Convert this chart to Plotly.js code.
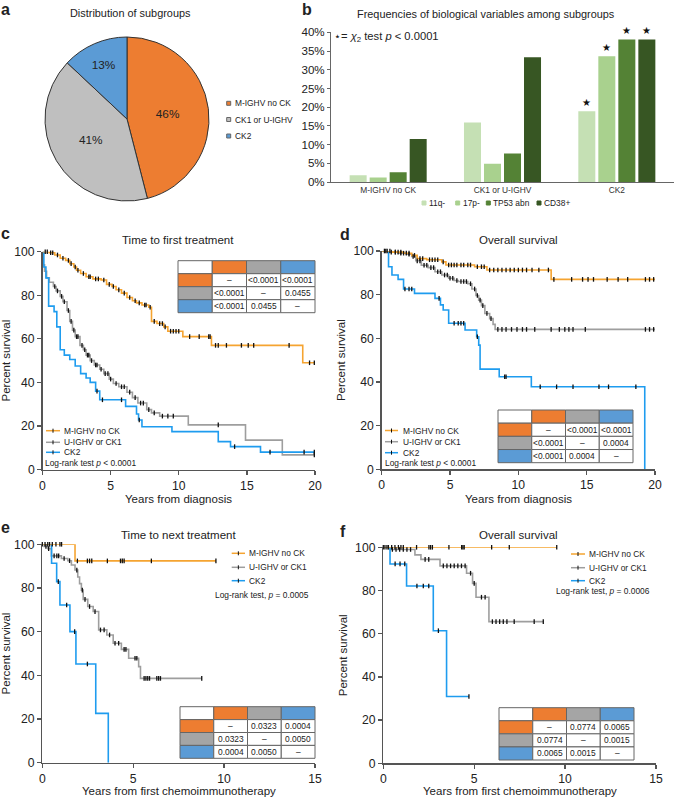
<!DOCTYPE html>
<html><head><meta charset="utf-8">
<script src="https://cdn.plot.ly/plotly-3.0.1.min.js"></script>
<style>html,body{margin:0;padding:0;background:#fff;}#chart{width:674px;height:797px;}</style>
</head><body><div id="chart"></div>
<script>
// ---------- data ----------
// panel a
const pieLabels = ['M-IGHV no CK', 'CK1 or U-IGHV', 'CK2'];
const pieValues = [46, 41, 13];
// panel b
const barCategories = ['M-IGHV no CK', 'CK1 or U-IGHV', 'CK2'];
const barSeries = ['11q-', '17p-', 'TP53 abn', 'CD38+'];
const v11q = [1.8, 15.9, 18.9];
const v17p = [1.2, 4.9, 33.6];
const vTP53 = [2.6, 7.6, 38.1];
const vCD38 = [11.5, 33.3, 38.1];
const sigMarks = ['', '', '★'];
const yTicksB = [0, 5, 10, 15, 20, 25, 30, 35, 40];
const yTickTextB = ['0%', '5%', '10%', '15%', '20%', '25%', '30%', '35%', '40%'];
// KM groups
const kmNames = ['M-IGHV no CK', 'U-IGHV or CK1', 'CK2'];
// panel c: time to first treatment
const cT_M = [0, 0.5, 0.9, 1.3, 1.7, 2.0, 2.3, 2.5, 2.8, 3.2, 3.7, 4.3, 4.7, 5.1, 5.4, 5.8, 6.2, 6.6, 6.9, 7.3, 7.8, 8.0, 8.4, 8.9, 9.2, 10.3, 12.4, 19.1, 20];
const cS_M = [100, 99.5, 98.5, 97, 96, 94.5, 93, 91.5, 90, 88.5, 87.5, 87, 85, 84, 82.5, 81, 79, 77.5, 76.5, 75.5, 74.5, 68, 67, 65.5, 63.5, 61, 57, 49, 49];
const cC_M = [0.2, 0.35, 0.6, 0.75, 1.1, 1.5, 1.9, 2.1, 2.4, 2.6, 3.0, 3.4, 3.5, 3.9, 4.1, 4.5, 4.9, 5.2, 5.6, 6.0, 6.4, 6.8, 7.1, 7.5, 7.6, 7.9, 8.2, 8.6, 8.8, 9.0, 9.4, 9.6, 9.8, 10.0, 10.8, 11.5, 12.2, 12.3, 12.7, 12.9, 13.5, 14.6, 15.1, 15.5, 18.1, 19.6, 19.95];
const cT_U = [0, 0.05, 0.15, 0.3, 0.5, 0.8, 1.0, 1.3, 1.5, 1.8, 2.0, 2.2, 2.4, 2.75, 3.0, 3.2, 3.5, 3.8, 4.2, 4.5, 4.9, 5.2, 5.6, 6.2, 6.6, 7.0, 7.65, 8.0, 8.6, 10.7, 14.9, 17.6, 20];
const cS_U = [100, 94, 91, 88, 86, 84, 82, 79.5, 77, 73, 68, 64, 61, 57, 55, 52.5, 50, 48, 46, 44, 41.5, 39.5, 38, 35.5, 33, 30.5, 27.5, 26, 24.5, 20.5, 13.5, 6.7, 6.7];
const cC_U = [0.9, 1.1, 1.4, 1.6, 1.9, 2.1, 2.3, 2.5, 2.6, 2.9, 3.1, 3.3, 3.4, 3.6, 3.9, 4.0, 4.3, 4.6, 4.8, 5.0, 5.4, 5.8, 6.0, 6.4, 6.8, 7.2, 7.4, 7.8, 8.2, 8.8, 9.2, 9.6, 12.9, 19.95];
const cT_B = [0, 0.1, 0.25, 0.45, 0.85, 1.05, 1.3, 1.6, 2.0, 2.4, 2.8, 3.2, 3.5, 3.9, 4.2, 6.1, 6.9, 7.05, 7.3, 9.5, 12.9, 13.8, 16.0, 20];
const cS_B = [100, 93, 88, 75, 72.5, 65.5, 55, 52.5, 50.5, 47.5, 44, 42, 40, 36, 32, 29, 25.5, 22.7, 19.6, 17.4, 12.8, 10.5, 8, 8];
const cC_B = [4.0, 4.4, 5.8, 7.1, 14.1, 16.7, 19.2, 19.95];
const cP = [['–', '&lt;0.0001', '&lt;0.0001'], ['&lt;0.0001', '–', '0.0455'], ['&lt;0.0001', '0.0455', '–']];
// panel d: overall survival from diagnosis
const dT_M = [0, 0.8, 1.6, 2.2, 2.6, 3.3, 4.4, 4.7, 6.8, 7.7, 12.4, 20];
const dS_M = [100, 99.5, 99, 98, 96.5, 96, 95, 93.6, 92.8, 91.3, 87, 87];
const dC_M = [0.2, 0.4, 0.6, 1.0, 1.2, 1.4, 1.8, 2.0, 2.4, 2.8, 3.0, 3.5, 3.7, 3.9, 4.1, 4.5, 4.9, 5.1, 5.3, 5.5, 5.8, 6.0, 6.3, 6.5, 7.0, 7.3, 7.5, 7.9, 8.2, 8.5, 8.8, 9.1, 9.4, 9.7, 10.0, 10.3, 10.6, 11.0, 11.5, 12.2, 12.6, 13.9, 14.7, 15.1, 15.5, 16.5, 17.3, 18.0, 19.3, 19.6, 19.9];
const dT_U = [0, 0.5, 1.2, 1.8, 2.2, 2.5, 2.9, 3.4, 3.9, 4.4, 4.9, 5.3, 5.6, 6.3, 6.6, 6.9, 7.1, 7.3, 7.55, 7.9, 8.15, 8.3, 20];
const dS_U = [100, 99.5, 99, 98.5, 97.5, 95.5, 93.5, 92.4, 90.5, 89, 87.5, 86.5, 86, 85, 82.6, 79.6, 77.5, 75, 71.4, 69, 66.4, 64.1, 64.1];
const dC_U = [0.3, 0.7, 1.0, 1.4, 1.6, 2.0, 2.3, 2.6, 2.8, 3.1, 3.3, 3.6, 3.8, 4.1, 4.3, 4.6, 4.8, 5.0, 5.2, 5.5, 5.8, 6.0, 6.2, 6.5, 6.8, 7.0, 7.2, 7.4, 7.7, 8.0, 8.5, 8.8, 9.1, 9.5, 9.9, 10.3, 10.6, 11.2, 12.4, 13.0, 13.4, 13.7, 14.0, 14.9, 19.3, 19.6, 19.9];
const dT_B = [0, 0.5, 0.75, 1.2, 1.6, 2.4, 3.9, 4.3, 4.5, 4.9, 6.1, 6.95, 7.1, 7.2, 8.6, 10.95, 19.25];
const dS_B = [100, 92.8, 89, 87, 82.6, 80.6, 78.3, 75.3, 73, 66.9, 63.8, 60.7, 56.9, 45.9, 42.4, 37.8, 0];
const dC_B = [1.7, 2.0, 2.2, 4.2, 5.3, 5.6, 5.8, 6.0, 7.0, 9.0, 9.1, 11.6, 12.8, 14.0, 15.9, 16.6, 18.6];
const dP = [['–', '&lt;0.0001', '&lt;0.0001'], ['&lt;0.0001', '–', '0.0004'], ['&lt;0.0001', '0.0004', '–']];
// panel e: time to next treatment
const eT_M = [0, 1.8, 9.55];
const eS_M = [100, 92.4, 92.4];
const eC_M = [0.0, 0.15, 0.3, 0.4, 0.55, 0.75, 0.97, 1.06, 1.93, 2.48, 2.6, 2.72, 3.58, 4.3, 4.4, 4.5, 6.0, 9.55];
const eT_U = [0, 0.1, 0.3, 0.5, 1.05, 1.4, 1.6, 1.8, 1.95, 2.05, 2.15, 2.25, 2.5, 2.8, 3.1, 3.55, 3.9, 4.35, 4.75, 5.3, 5.4, 8.77];
const eS_U = [100, 99, 98, 94.7, 93.5, 92.5, 90.5, 88.2, 85, 82, 79, 74.8, 71.5, 69.2, 60.8, 58.5, 54.7, 51.9, 47.8, 44, 38.6, 38.6];
const eC_U = [0.2, 0.35, 0.65, 0.8, 0.9, 1.2, 1.5, 1.9, 2.2, 2.35, 2.6, 2.9, 3.2, 3.4, 3.7, 4.0, 4.2, 4.5, 4.6, 5.1, 5.2, 5.6, 5.7, 5.8, 5.9, 6.3, 6.4, 6.5, 8.77];
const eT_B = [0, 0.51, 0.79, 0.97, 1.52, 1.85, 2.94, 3.63];
const eS_B = [100, 91.3, 82.9, 72.2, 60, 45.2, 22.6, 0];
const eC_B = [0.88, 1.34, 1.78, 2.48];
const eP = [['–', '0.0323', '0.0004'], ['0.0323', '–', '0.0050'], ['0.0004', '0.0050', '–']];
// panel f: overall survival from chemoimmunotherapy
const fT_M = [0, 9.54];
const fS_M = [100, 100];
const fC_M = [0.0, 0.09, 0.28, 0.46, 0.64, 0.83, 0.97, 1.1, 1.83, 2.51, 2.6, 2.7, 3.61, 4.31, 4.38, 4.45, 5.96, 6.93, 9.54];
const fT_U = [0, 0.37, 1.74, 2.07, 3.12, 4.58, 4.91, 5.1, 5.81, 8.8];
const fS_U = [100, 99, 96.5, 94.4, 91.4, 88, 83.3, 76.9, 65.6, 65.6];
const fC_U = [0.2, 0.5, 0.7, 0.9, 1.1, 1.3, 1.5, 2.3, 2.5, 3.3, 3.5, 3.7, 3.9, 4.1, 4.3, 4.5, 4.8, 5.0, 5.4, 5.6, 6.0, 6.2, 6.4, 6.6, 6.8, 7.2, 8.3, 8.8];
const fT_B = [0, 0.37, 1.28, 2.75, 3.48, 4.71];
const fS_B = [100, 92.3, 82.1, 61.4, 30.9, 30.9];
const fC_B = [0.65, 0.92, 1.18, 1.85, 2.2, 2.5, 3.03, 4.71];
const fP = [['–', '0.0774', '0.0065'], ['0.0774', '–', '0.0015'], ['0.0065', '0.0015', '–']];

// ---------- styles ----------
const W = 674, H = 797;
const FONT = 'Liberation Sans, Arial, sans-serif';
const TXT = '#222';
const X = p => p / W;
const Y = p => 1 - p / H;
const pieColors = ['#ED7D31', '#BFBFBF', '#5B9BD5'];
const tabColors = ['#ED7D31', '#A5A5A5', '#5B9BD5'];
const barColors = ['#C5E0B4', '#A9D18E', '#548235', '#375623'];
const kmColors = ['#F5A431', '#9E9E9E', '#1E9CEF'];
const SMALL = 8.4;   // legend / table text
const TITLE = 11.5;  // panel & axis titles
const BARGAP = 0.3, BARGROUPGAP = 0.15;
const BAR_X0 = 331, BAR_X1 = 674;

const traces = [];
const ann = [];
const shapes = [];
function text(x, y, t, size, anchor, extra) {
  ann.push(Object.assign({xref: 'paper', yref: 'paper', x: X(x), y: Y(y), text: t, showarrow: false, borderpad: 0,
    xanchor: anchor || 'center', yanchor: 'middle', font: {family: FONT, size: size, color: TXT}}, extra || {}));
}
function rect(x0, y0, x1, y1, fill, lc) {
  shapes.push({type: 'rect', xref: 'paper', yref: 'paper', x0: X(x0), x1: X(x1), y0: Y(y1), y1: Y(y0),
    fillcolor: fill, line: {color: lc || '#555', width: 1}, layer: 'above'});
}
function seg(x0, y0, x1, y1, color, w) {
  shapes.push({type: 'line', xref: 'paper', yref: 'paper', x0: X(x0), x1: X(x1), y0: Y(y0), y1: Y(y1),
    line: {color: color, width: w}, layer: 'above'});
}
function stepAt(t, s, v) { let r = s[0]; for (let i = 0; i < t.length; i++) { if (t[i] <= v) r = s[i]; else break; } return r; }

// ---------- panel a ----------
traces.push({type: 'pie', labels: pieLabels, values: pieValues, sort: false, direction: 'clockwise', rotation: 0,
  domain: {x: [X(45), X(209)], y: [Y(201), Y(37)]},
  marker: {colors: pieColors, line: {color: '#333', width: 1}},
  texttemplate: '%{value}%', textposition: 'inside', insidetextorientation: 'horizontal',
  textfont: {family: FONT, size: 11.8, color: TXT}, hoverinfo: 'skip', showlegend: false});
text(130, 13, 'Distribution of subgroups', 10.9);
[103.3, 119.5, 136].forEach((yy, i) => {
  rect(226.7, yy - 2, 230.7, yy + 2, pieColors[i], '#666');
  text(234, yy, pieLabels[i], SMALL, 'left');
});

// ---------- panel b ----------
const barVals = [v11q, v17p, vTP53, vCD38];
barVals.forEach((v, i) => {
  traces.push({type: 'bar', x: barCategories, y: v, name: barSeries[i], marker: {color: barColors[i]},
    xaxis: 'x', yaxis: 'y', hoverinfo: 'skip', showlegend: false});
});
// significance stars placed over the grouped bars (slot offset derived from the bar layout settings)
const catPx = (BAR_X1 - BAR_X0) / barCategories.length;
const slotPx = catPx * (1 - BARGAP) / barSeries.length;
barVals.forEach((v, i) => {
  sigMarks.forEach((m, k) => {
    if (!m) return;
    ann.push({xref: 'x', yref: 'y', x: barCategories[k], y: v[k], text: m, showarrow: false,
      xanchor: 'center', yanchor: 'bottom', yshift: 1, xshift: (i - (barSeries.length - 1) / 2) * slotPx,
      font: {family: FONT, size: 9.5, color: '#111'}});
  });
});
text(486, 14, 'Frequencies of biological variables among subgroups', 10.9);
text(333, 37, '⋆= <i>χ</i><sub>2</sub> test <i>p</i> &lt; 0.0001', 11.2, 'left');
const legBx = [424, 457.7, 488.3, 539];
barSeries.forEach((n, i) => {
  rect(legBx[i] - 2, 201, legBx[i] + 2, 205, barColors[i], barColors[i]);
  text(legBx[i] + 4, 203, n, SMALL, 'left');
});

// ---------- KM panels ----------
const kmPanels = [
  {xa: 'x2', ya: 'y2', data: [[cT_M, cS_M, cC_M], [cT_U, cS_U, cC_U], [cT_B, cS_B, cC_B]]},
  {xa: 'x3', ya: 'y3', data: [[dT_M, dS_M, dC_M], [dT_U, dS_U, dC_U], [dT_B, dS_B, dC_B]]},
  {xa: 'x4', ya: 'y4', data: [[eT_M, eS_M, eC_M], [eT_U, eS_U, eC_U], [eT_B, eS_B, eC_B]]},
  {xa: 'x5', ya: 'y5', data: [[fT_M, fS_M, fC_M], [fT_U, fS_U, fC_U], [fT_B, fS_B, fC_B]]}
];
const drawOrder = [1, 2, 0];
kmPanels.forEach(p => {
  drawOrder.forEach(g => {
    traces.push({type: 'scatter', mode: 'lines', x: p.data[g][0], y: p.data[g][1], name: kmNames[g],
      line: {shape: 'hv', color: kmColors[g], width: 1.6}, xaxis: p.xa, yaxis: p.ya,
      cliponaxis: false, hoverinfo: 'skip', showlegend: false});
  });
  drawOrder.forEach(g => {
    const [t, s, c] = p.data[g];
    traces.push({type: 'scatter', mode: 'markers', x: c, y: c.map(v => stepAt(t, s, v)), name: kmNames[g] + ' censored',
      marker: {symbol: 'line-ns-open', size: 3.3, color: '#111', line: {color: '#111', width: 1.3}},
      xaxis: p.xa, yaxis: p.ya, cliponaxis: false, hoverinfo: 'skip', showlegend: false});
  });
});

function kmLegend(sx0, sx1, tx, ys, lrX, lrY, lrText) {
  kmNames.forEach((n, i) => {
    seg(sx0, ys[i], sx1, ys[i], kmColors[i], 1.5);
    const cx = (sx0 + sx1) / 2;
    seg(cx, ys[i] - 2, cx, ys[i] + 2, '#111', 1);
    text(tx, ys[i], n, SMALL, 'left');
  });
  text(lrX, lrY, lrText, SMALL, 'left');
}
kmLegend(46, 60, 62.5, [430.7, 442.3, 452.3], 44, 462.9, 'Log-rank test <i>p</i> &lt; 0.0001');
kmLegend(385, 398, 401.5, [430.5, 441.7, 452.7], 384, 462.7, 'Log-rank test <i>p</i> &lt; 0.0001');
kmLegend(231.7, 245, 247.5, [553.3, 567.3, 580.7], 214, 595, 'Log-rank test, <i>p</i> = 0.0005');
kmLegend(571, 585, 587.5, [554, 567.7, 580.7], 554.5, 591, 'Log-rank test, <i>p</i> = 0.0006');

function pTable(x0, y0, x1, y1, vals) {
  const cw = (x1 - x0) / 4, rh = (y1 - y0) / 4;
  const head = ['#FFFFFF'].concat(tabColors);
  for (let r = 0; r < 4; r++) for (let c = 0; c < 4; c++) {
    const fill = r === 0 ? head[c] : (c === 0 ? tabColors[r - 1] : '#FFFFFF');
    rect(x0 + c * cw, y0 + r * rh, x0 + (c + 1) * cw, y0 + (r + 1) * rh, fill, '#666');
    if (r > 0 && c > 0) text(x0 + (c + 0.5) * cw, y0 + (r + 0.5) * rh, vals[r - 1][c - 1], SMALL);
  }
}
pTable(178, 260.7, 315, 312.7, cP);
pTable(498, 410, 633, 462.7, dP);
pTable(180, 706.7, 315, 758.3, eP);
pTable(499, 707.7, 634, 760, fP);

// titles, x-axis titles & panel letters
text(178, 240, 'Time to first treatment', TITLE);
text(518, 240, 'Overall survival', TITLE);
text(178, 535, 'Time to next treatment', TITLE);
text(518, 535, 'Overall survival', TITLE);
text(178.7, 499, 'Years from diagnosis', TITLE);
text(518.3, 499, 'Years from diagnosis', TITLE);
text(178.7, 790.8, 'Years from first chemoimmunotherapy', TITLE);
text(519.6, 790.8, 'Years from first chemoimmunotherapy', TITLE);
const letters = [['a', 5, 9.5], ['b', 307, 9.5], ['c', 5, 233], ['d', 345, 234], ['e', 5, 527], ['f', 343, 531]];
letters.forEach(l => text(l[1], l[2], '<b>' + l[0] + '</b>', 16));

// ---------- axes ----------
const axBase = {showline: true, linecolor: '#555', linewidth: 1.4, ticks: 'outside', ticklen: 4, tickwidth: 1.3,
  tickcolor: '#555', tickfont: {family: FONT, size: 12.2, color: TXT}, showgrid: false, zeroline: false,
  fixedrange: true, automargin: false};
function kmX(x0, x1, xmax, anchor) {
  return Object.assign({}, axBase, {domain: [X(x0), X(x1)], range: [0, xmax], tick0: 0, dtick: 5, anchor: anchor});
}
function kmY(y0, y1, anchor, standoff) {
  return Object.assign({}, axBase, {domain: [Y(y0), Y(y1)], range: [0, 100], tick0: 0, dtick: 20, anchor: anchor,
    title: {text: 'Percent survival', font: {family: FONT, size: TITLE, color: TXT}, standoff: standoff}});
}

const layout = {
  width: W, height: H, margin: {l: 0, r: 0, t: 0, b: 0}, paper_bgcolor: '#fff', plot_bgcolor: 'rgba(0,0,0,0)',
  font: {family: FONT, color: TXT}, showlegend: false, barmode: 'group', bargap: BARGAP, bargroupgap: BARGROUPGAP,
  xaxis: {domain: [X(BAR_X0), X(BAR_X1)], anchor: 'y', type: 'category', showline: true, linecolor: '#666', linewidth: 1.2,
    ticks: '', tickfont: {family: FONT, size: SMALL, color: '#333'}, showgrid: false, zeroline: false, fixedrange: true, automargin: false},
  yaxis: {domain: [Y(182), Y(32.3)], anchor: 'x', range: [0, 40], tickmode: 'array', tickvals: yTicksB, ticktext: yTickTextB,
    showline: true, linecolor: '#666', linewidth: 1, ticks: 'outside', ticklen: 3, tickcolor: '#666',
    tickfont: {family: FONT, size: 11.6, color: TXT}, showgrid: false, zeroline: false, fixedrange: true, automargin: false},
  xaxis2: kmX(42.5, 315, 20, 'y2'),
  yaxis2: kmY(469.5, 251.7, 'x2', 3),
  xaxis3: kmX(381.7, 655, 20, 'y3'),
  yaxis3: kmY(469.3, 251, 'x3', 5),
  xaxis4: kmX(42.3, 315, 15, 'y4'),
  yaxis4: kmY(762.7, 544.3, 'x4', 3),
  xaxis5: kmX(383.3, 656, 15, 'y5'),
  yaxis5: kmY(763.3, 547.3, 'x5', 5),
  annotations: ann, shapes: shapes
};
Plotly.newPlot('chart', traces, layout, {staticPlot: true, displayModeBar: false});
</script>
</body></html>
